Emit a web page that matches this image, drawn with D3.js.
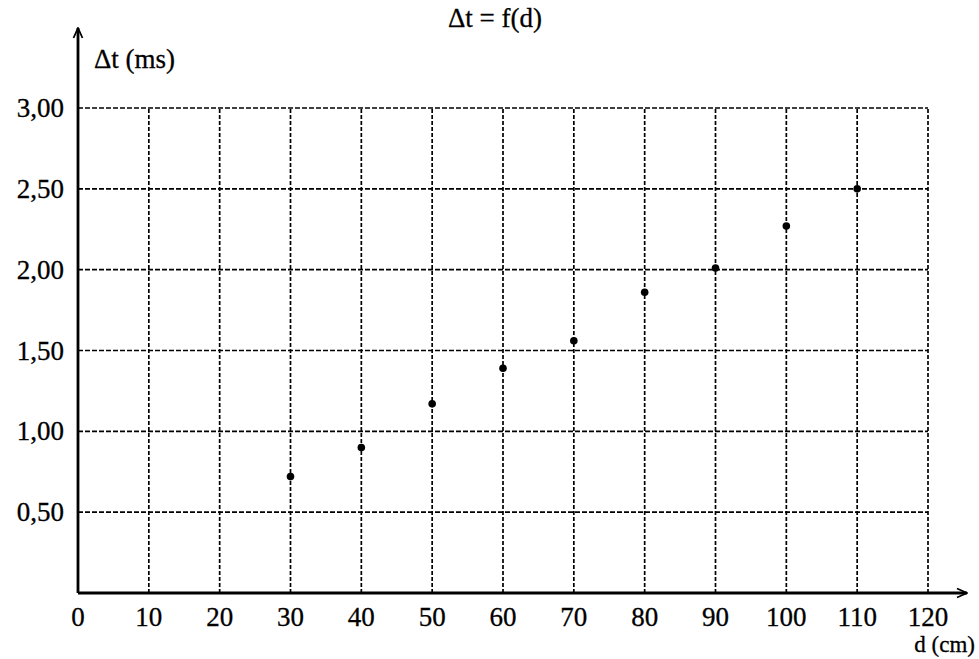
<!doctype html>
<html lang="fr">
<head>
<meta charset="utf-8">
<script src="https://d3js.org/d3.v7.min.js"></script>
<style>
  body { margin: 0; background: #fff; }
</style>
</head>
<body>
<div id="chart"></div>
<script>
// measured distances (cm) and delays (ms)
var distances = [30, 40, 50, 60, 70, 80, 90, 100, 110]
var delays = [0.72, 0.90, 1.17, 1.39, 1.56, 1.86, 2.01, 2.27, 2.50]
var xTicks = [0, 10, 20, 30, 40, 50, 60, 70, 80, 90, 100, 110, 120]
var yTicks = [0.5, 1.0, 1.5, 2.0, 2.5, 3.0]

var width = 979, height = 659
var serif = "'Liberation Serif', 'Times New Roman', Times, 'DejaVu Serif', serif"

var svg = d3.select("#chart").append("svg")
    .attr("width", width)
    .attr("height", height)
    .attr("font-family", serif)

var x = d3.scaleLinear().domain([0, 120]).range([78, 928])
var y = d3.scaleLinear().domain([0, 3]).range([593, 108])

// dashed grid
svg.append("g").selectAll("line")
    .data(xTicks.slice(1))
    .enter().append("line")
    .attr("x1", function(d){ return x(d) })
    .attr("x2", function(d){ return x(d) })
    .attr("y1", y(0))
    .attr("y2", y(3))
    .attr("stroke", "#000")
    .attr("stroke-width", 1.7)
    .attr("stroke-dasharray", "4,2")

svg.append("g").selectAll("line")
    .data(yTicks)
    .enter().append("line")
    .attr("x1", x(0))
    .attr("x2", x(120))
    .attr("y1", function(d){ return y(d) })
    .attr("y2", function(d){ return y(d) })
    .attr("stroke", "#000")
    .attr("stroke-width", 1.7)
    .attr("stroke-dasharray", "5,2")

// axes with arrows
svg.append("defs").append("marker")
    .attr("id", "arrow")
    .attr("viewBox", "0 0 12 12")
    .attr("refX", 11).attr("refY", 6)
    .attr("markerWidth", 12).attr("markerHeight", 12)
    .attr("markerUnits", "userSpaceOnUse")
    .attr("orient", "auto")
    .append("path")
    .attr("d", "M1,1.5 L11,6 L1,10.5")
    .attr("fill", "none")
    .attr("stroke", "#000")
    .attr("stroke-width", 1.8)

svg.append("line")
    .attr("x1", x(0)).attr("y1", y(0))
    .attr("x2", 967).attr("y2", y(0))
    .attr("stroke", "#000").attr("stroke-width", 2.8)
    .attr("marker-end", "url(#arrow)")

svg.append("line")
    .attr("x1", x(0)).attr("y1", y(0))
    .attr("x2", x(0)).attr("y2", 28)
    .attr("stroke", "#000").attr("stroke-width", 2.8)
    .attr("marker-end", "url(#arrow)")

// all labels share this look
function label(sel) {
    sel.attr("font-family", serif)
        .attr("font-size", 27)
        .attr("fill", "#000")
        .attr("stroke", "#000")
        .attr("stroke-width", 0.3)
}

// tick labels
svg.append("g").selectAll("text")
    .data(xTicks)
    .enter().append("text")
    .call(label)
    .attr("x", function(d){ return x(d) })
    .attr("y", 626)
    .attr("text-anchor", "middle")
    .text(function(d){ return d })

svg.append("g").selectAll("text")
    .data(yTicks)
    .enter().append("text")
    .call(label)
    .attr("x", 64)
    .attr("y", function(d){ return y(d) + 9 })
    .attr("text-anchor", "end")
    .text(function(d){ return d3.format(".2f")(d).replace(".", ",") })

// titles
svg.append("text").call(label)
    .attr("x", 495).attr("y", 27)
    .attr("text-anchor", "middle")
    .text("Δt = f(d)")

svg.append("text").call(label)
    .attr("x", 94).attr("y", 68)
    .text("Δt (ms)")

svg.append("text").call(label)
    .attr("x", 975).attr("y", 652)
    .attr("font-size", 23)
    .attr("text-anchor", "end")
    .text("d (cm)")

// points
svg.append("g").selectAll("circle")
    .data(distances)
    .enter().append("circle")
    .attr("cx", function(d){ return x(d) })
    .attr("cy", function(d, i){ return y(delays[i]) })
    .attr("r", 3.8)
    .attr("fill", "#000")
</script>
</body>
</html>
